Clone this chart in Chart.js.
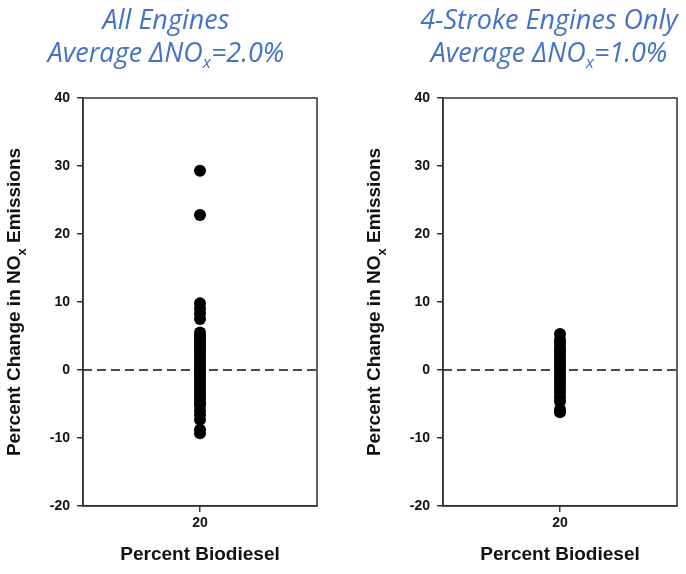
<!DOCTYPE html>
<html>
<head>
<meta charset="utf-8">
<script src="https://cdn.jsdelivr.net/npm/chart.js@4/dist/chart.umd.min.js"></script>
<style>
  body { margin: 0; background: #fff; }
  #wrap { position: relative; width: 686px; height: 574px; overflow: hidden; }
  canvas { position: absolute; top: 0; }
  .title {
    position: absolute; top: 2px; width: 360px; text-align: center; white-space: nowrap;
    font-family: "Open Sans", sans-serif; font-style: italic; font-size: 27px;
    line-height: 33px; color: #4472c4;
  }
  .title sub { font-size: 17px; vertical-align: -6px; line-height: 0; }
</style>
</head>
<body>
<div id="wrap">
  <canvas id="left" width="343" height="574" style="left:0"></canvas>
  <canvas id="right" width="343" height="574" style="left:343px"></canvas>
  <div class="title" style="left:-14px">All Engines<br>Average &Delta;NO<sub>x</sub>=2.0%</div>
  <div class="title" style="left:369px">4-Stroke Engines Only<br>Average &Delta;NO<sub>x</sub>=1.0%</div>
</div>
<script>
// percent biodiesel blend (single category)
const blend = 20;
const xTicks = [20];
const yTicks = [-20, -10, 0, 10, 20, 30, 40];

// percent change in NOx, all engines
const allEngines = [29.3, 22.8, 9.8, 9.0, 8.3, 7.5, 5.5, 5.0, 4.6, 4.2, 3.8, 3.3, 2.9, 2.5,
  2.0, 1.6, 1.2, 0.8, 0.3, -0.2, -0.6, -1.0, -1.5, -2.0, -2.4, -2.9, -3.4, -3.8, -4.3,
  -4.8, -5.2, -6.0, -6.6, -7.3, -8.8, -9.3];

// percent change in NOx, 4-stroke engines only
const fourStroke = [5.3, 4.5, 4.0, 3.4, 2.9, 2.5, 2.0, 1.5, 1.0, 0.6, 0.2, -0.3, -0.8,
  -1.3, -1.8, -2.3, -2.9, -3.4, -4.0, -4.6, -5.8, -6.2];

const baseline = [{ x: 0, y: 0 }, { x: 40, y: 0 }];

const boxAndLabel = {
  id: 'boxAndLabel',
  afterDraw(chart, args, opts) {
    const ctx = chart.ctx;
    const a = chart.chartArea;
    ctx.save();
    ctx.strokeStyle = '#333';
    ctx.lineWidth = 1.5;
    ctx.strokeRect(a.left, a.top, a.right - a.left, a.bottom - a.top);

    // y title with subscript
    const big = 'bold 19px "Liberation Sans", Arial, sans-serif';
    const small = 'bold 13px "Liberation Sans", Arial, sans-serif';
    const p1 = 'Percent Change in NO', p2 = 'x', p3 = ' Emissions';
    ctx.font = big;
    const w1 = ctx.measureText(p1).width, w3 = ctx.measureText(p3).width;
    ctx.font = small;
    const w2 = ctx.measureText(p2).width;
    const total = w1 + w2 + w3;
    ctx.translate(opts.x, 302);
    ctx.rotate(-Math.PI / 2);
    ctx.fillStyle = '#111';
    ctx.textBaseline = 'middle';
    let x = -total / 2;
    ctx.font = big; ctx.fillText(p1, x, 0); x += w1;
    ctx.font = small; ctx.fillText(p2, x, 7); x += w2;
    ctx.font = big; ctx.fillText(p3, x, 0);
    ctx.restore();
  }
};

function makeChart(id, values, axisWidth, padRight, labelX) {
  new Chart(document.getElementById(id), {
    type: 'scatter',
    data: {
      datasets: [
        {
          data: values.map(v => ({ x: blend, y: v })),
          pointRadius: 6,
          pointHoverRadius: 6,
          backgroundColor: '#000',
          borderWidth: 0
        },
        {
          type: 'line',
          data: baseline,
          borderColor: '#111',
          borderWidth: 1.5,
          borderDash: [9, 5],
          pointRadius: 0,
          fill: false
        }
      ]
    },
    options: {
      responsive: false,
      animation: false,
      devicePixelRatio: 1,
      layout: { padding: { top: 98, right: padRight, left: 0, bottom: 0 } },
      plugins: {
        legend: { display: false },
        tooltip: { enabled: false },
        boxAndLabel: { x: labelX }
      },
      scales: {
        x: {
          type: 'linear',
          min: 0,
          max: 40,
          afterBuildTicks: s => { s.ticks = xTicks.map(v => ({ value: v })); },
          afterFit: s => { s.height = 68; },
          grid: { drawOnChartArea: false, drawTicks: true, tickLength: 6, color: '#333', lineWidth: 1.5 },
          border: { display: true, color: '#333', width: 1.5 },
          ticks: {
            color: '#111', padding: 3,
            font: { family: '"Liberation Sans", Arial, sans-serif', size: 14, weight: 'bold' }
          },
          title: {
            display: true, text: 'Percent Biodiesel', color: '#111',
            padding: { top: 0, bottom: 8 },
            font: { family: '"Liberation Sans", Arial, sans-serif', size: 19, weight: 'bold' }
          }
        },
        y: {
          min: -20,
          max: 40,
          afterBuildTicks: s => { s.ticks = yTicks.map(v => ({ value: v })); },
          afterFit: s => { s.width = axisWidth; },
          grid: { drawOnChartArea: false, drawTicks: true, tickLength: 6, color: '#333', lineWidth: 1.5 },
          border: { display: true, color: '#333', width: 1.5 },
          ticks: {
            color: '#111', padding: 7,
            font: { family: '"Liberation Sans", Arial, sans-serif', size: 14, weight: 'bold' }
          }
        }
      }
    },
    plugins: [boxAndLabel]
  });
}

makeChart('left', allEngines, 83, 26, 15);
makeChart('right', fourStroke, 100, 9, 32);
</script>
</body>
</html>
